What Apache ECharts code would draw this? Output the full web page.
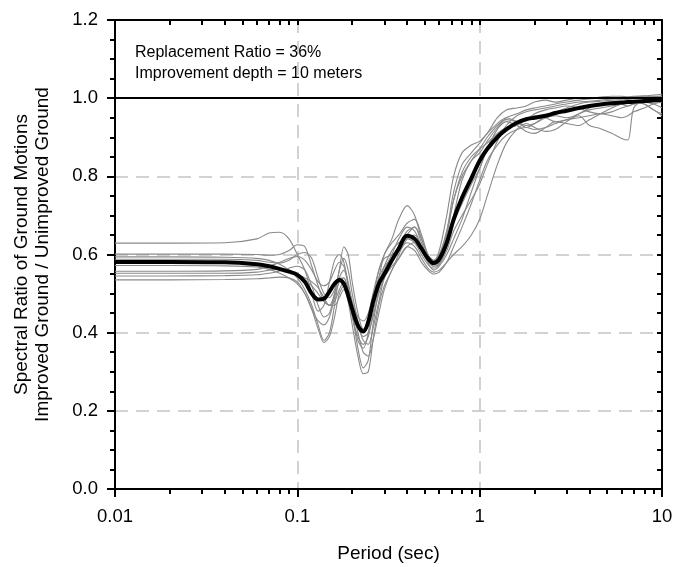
<!DOCTYPE html>
<html>
<head>
<meta charset="utf-8">
<title>Spectral ratio - improved / unimproved ground</title>
<script src="https://cdn.jsdelivr.net/npm/echarts@6/dist/echarts.min.js"></script>
<style>
  html, body { margin: 0; padding: 0; background: #fff; }
  #chart { width: 673px; height: 567px; }
</style>
</head>
<body>
<div id="chart"></div>
<script>
// periods (sec) shared by all records
const periods = [0.01, 0.02, 0.04, 0.06, 0.07, 0.08, 0.09, 0.1,
  0.11, 0.12, 0.13, 0.14, 0.15, 0.16, 0.17, 0.18, 0.19, 0.2,
  0.215, 0.23, 0.245, 0.26, 0.28, 0.3,
  0.33, 0.36, 0.4, 0.44, 0.48, 0.52, 0.56, 0.6,
  0.66, 0.72, 0.8, 0.9, 1.0,
  1.1, 1.25, 1.4, 1.6, 1.8, 2.0,
  2.3, 2.6, 3.0, 3.5, 4.0, 4.6,
  5.3, 6.0, 6.5, 7.0, 8.0, 9.0, 10];

// mean ratio (thick black line)
const meanRatio = [0.581, 0.581, 0.580, 0.575, 0.570, 0.563, 0.556, 0.548,
  0.530, 0.500, 0.485, 0.487, 0.505, 0.525, 0.535, 0.525, 0.495, 0.460,
  0.418, 0.403, 0.428, 0.478, 0.525, 0.550,
  0.585, 0.615, 0.648, 0.640, 0.615, 0.590, 0.578, 0.588,
  0.630, 0.690, 0.745, 0.795, 0.840,
  0.870, 0.900, 0.920, 0.937, 0.946, 0.950,
  0.955, 0.962, 0.968, 0.975, 0.980, 0.984,
  0.987, 0.989, 0.990, 0.991, 0.993, 0.994, 0.995];

// individual ground motion records (thin grey lines)
const rec1 = [0.629, 0.629, 0.630, 0.640, 0.655, 0.657, 0.640, 0.600,
  0.560, 0.500, 0.455, 0.470, 0.530, 0.585, 0.600, 0.580, 0.520, 0.450,
  0.380, 0.360, 0.400, 0.480, 0.560, 0.600,
  0.640, 0.690, 0.725, 0.700, 0.640, 0.600, 0.585, 0.610,
  0.700, 0.800, 0.860, 0.880, 0.890,
  0.910, 0.950, 0.970, 0.975, 0.980, 0.990,
  0.995, 0.990, 0.995, 1.000, 1.000, 1.003,
  1.005, 1.005, 1.003, 1.005, 1.006, 1.008, 1.010];
const rec2 = [0.601, 0.601, 0.601, 0.600, 0.598, 0.600, 0.610, 0.625,
  0.620, 0.570, 0.520, 0.480, 0.470, 0.500, 0.560, 0.620, 0.600, 0.530,
  0.450, 0.410, 0.420, 0.470, 0.540, 0.600,
  0.630, 0.650, 0.680, 0.690, 0.650, 0.600, 0.575, 0.590,
  0.650, 0.740, 0.800, 0.840, 0.870,
  0.900, 0.930, 0.945, 0.940, 0.930, 0.935,
  0.950, 0.955, 0.950, 0.960, 0.975, 0.985,
  0.990, 0.985, 0.980, 0.985, 0.990, 0.985, 0.975];
const rec3 = [0.594, 0.594, 0.593, 0.590, 0.585, 0.575, 0.560, 0.540,
  0.510, 0.470, 0.420, 0.380, 0.400, 0.470, 0.540, 0.560, 0.520, 0.450,
  0.360, 0.310, 0.330, 0.420, 0.510, 0.560,
  0.600, 0.640, 0.670, 0.660, 0.620, 0.585, 0.570, 0.580,
  0.630, 0.700, 0.790, 0.840, 0.860,
  0.890, 0.925, 0.950, 0.960, 0.970, 0.975,
  0.980, 0.985, 0.990, 0.995, 0.998, 1.000,
  1.000, 1.002, 1.003, 1.004, 1.005, 1.005, 1.005];
const rec4 = [0.588, 0.588, 0.588, 0.585, 0.580, 0.578, 0.585, 0.600,
  0.605, 0.590, 0.540, 0.500, 0.490, 0.510, 0.540, 0.540, 0.500, 0.440,
  0.390, 0.370, 0.390, 0.450, 0.520, 0.570,
  0.610, 0.630, 0.640, 0.630, 0.600, 0.575, 0.565, 0.575,
  0.620, 0.680, 0.730, 0.780, 0.820,
  0.870, 0.920, 0.940, 0.930, 0.915, 0.910,
  0.925, 0.940, 0.935, 0.930, 0.945, 0.960,
  0.975, 0.985, 0.990, 0.990, 0.985, 0.970, 0.960];
const rec5 = [0.580, 0.580, 0.579, 0.576, 0.572, 0.565, 0.555, 0.545,
  0.535, 0.520, 0.500, 0.480, 0.470, 0.480, 0.510, 0.530, 0.510, 0.470,
  0.420, 0.390, 0.400, 0.440, 0.500, 0.540,
  0.570, 0.590, 0.620, 0.630, 0.610, 0.580, 0.560, 0.570,
  0.600, 0.640, 0.690, 0.760, 0.820,
  0.870, 0.905, 0.925, 0.930, 0.945, 0.955,
  0.950, 0.940, 0.945, 0.955, 0.930, 0.922,
  0.910, 0.897, 0.893, 0.975, 0.995, 0.998, 1.000];
const rec6 = [0.572, 0.572, 0.571, 0.568, 0.562, 0.552, 0.540, 0.525,
  0.500, 0.460, 0.410, 0.375, 0.390, 0.440, 0.500, 0.520, 0.480, 0.420,
  0.340, 0.295, 0.300, 0.380, 0.470, 0.520,
  0.560, 0.600, 0.640, 0.650, 0.620, 0.585, 0.570, 0.575,
  0.610, 0.660, 0.700, 0.740, 0.780,
  0.830, 0.890, 0.930, 0.955, 0.965, 0.970,
  0.975, 0.980, 0.985, 0.990, 0.992, 0.995,
  0.998, 1.000, 1.000, 1.002, 1.003, 1.004, 1.005];
const rec7 = [0.557, 0.557, 0.558, 0.562, 0.570, 0.580, 0.590, 0.595,
  0.585, 0.560, 0.530, 0.520, 0.530, 0.560, 0.580, 0.570, 0.530, 0.480,
  0.440, 0.430, 0.450, 0.500, 0.560, 0.590,
  0.600, 0.610, 0.630, 0.620, 0.590, 0.565, 0.555, 0.560,
  0.580, 0.600, 0.620, 0.650, 0.690,
  0.750, 0.830, 0.885, 0.920, 0.935, 0.925,
  0.915, 0.920, 0.940, 0.960, 0.970, 0.975,
  0.980, 0.985, 0.988, 0.990, 0.985, 0.970, 0.955];
const rec8 = [0.552, 0.552, 0.552, 0.555, 0.560, 0.565, 0.560, 0.550,
  0.540, 0.530, 0.515, 0.490, 0.470, 0.470, 0.490, 0.510, 0.500, 0.470,
  0.420, 0.380, 0.370, 0.410, 0.480, 0.540,
  0.580, 0.610, 0.650, 0.670, 0.640, 0.600, 0.585, 0.600,
  0.660, 0.740, 0.810, 0.850, 0.870,
  0.885, 0.910, 0.925, 0.935, 0.945, 0.960,
  0.970, 0.975, 0.980, 0.975, 0.965, 0.960,
  0.965, 0.975, 0.980, 0.985, 0.990, 0.992, 0.995];
const rec9 = [0.545, 0.545, 0.546, 0.548, 0.552, 0.558, 0.565, 0.570,
  0.560, 0.520, 0.470, 0.440, 0.450, 0.500, 0.560, 0.590, 0.560, 0.500,
  0.430, 0.400, 0.420, 0.480, 0.540, 0.570,
  0.590, 0.620, 0.660, 0.670, 0.630, 0.595, 0.580, 0.595,
  0.660, 0.760, 0.830, 0.860, 0.885,
  0.910, 0.935, 0.950, 0.940, 0.925, 0.935,
  0.955, 0.965, 0.975, 0.985, 0.990, 0.992,
  0.995, 0.996, 0.997, 0.998, 1.000, 1.002, 1.005];
const rec10 = [0.535, 0.535, 0.536, 0.538, 0.540, 0.542, 0.540, 0.530,
  0.500, 0.460, 0.430, 0.420, 0.440, 0.490, 0.530, 0.540, 0.510, 0.460,
  0.400, 0.350, 0.340, 0.380, 0.450, 0.510,
  0.560, 0.590, 0.620, 0.610, 0.580, 0.560, 0.550, 0.555,
  0.580, 0.620, 0.670, 0.730, 0.790,
  0.840, 0.880, 0.905, 0.920, 0.925, 0.920,
  0.925, 0.935, 0.945, 0.950, 0.955, 0.960,
  0.955, 0.950, 0.955, 0.965, 0.975, 0.985, 0.990];

const records = [rec1, rec2, rec3, rec4, rec5, rec6, rec7, rec8, rec9, rec10];

// axis ticks
const xMajorTicks = [0.01, 0.1, 1, 10];
const xMinorTicks = [];
for (let d = 0; d < 3; d++) {
  for (let k = 2; k <= 9; k++) {
    xMinorTicks.push(+(k * xMajorTicks[d]).toPrecision(2));
  }
}

const labelText = ['Replacement Ratio = 36%', 'Improvement depth = 10 meters'];
const xTitle = 'Period (sec)';
const yTitle = 'Spectral Ratio of Ground Motions\nImproved Ground / Unimproved Ground';

const FONT = 'Liberation Sans, Arial, sans-serif';
const black = { color: '#000', width: 2 };
const gridDash = { color: '#c4c4c4', width: 1.5, type: [13, 8] };

function pairs(vals) {
  return periods.map((p, i) => [p, vals[i]]);
}

const chart = echarts.init(document.getElementById('chart'), null, { renderer: 'canvas' });

const series = records.map((r, i) => ({
  name: 'rec' + (i + 1),
  type: 'line',
  data: pairs(r),
  showSymbol: false,
  smooth: 0.3,
  lineStyle: { color: '#8a8a8a', width: 1.1 },
  z: 2,
  silent: true
}));

series.push({
  name: 'mean',
  type: 'line',
  data: pairs(meanRatio),
  showSymbol: false,
  smooth: 0.35,
  lineStyle: { color: '#000', width: 4 },
  z: 4,
  silent: true,
  markLine: {
    silent: true,
    symbol: ['none', 'none'],
    label: { show: false },
    lineStyle: { color: '#000', width: 2, type: 'solid' },
    data: [{ yAxis: 1.0 }]
  }
});

const option = {
  animation: false,
  backgroundColor: '#fff',
  textStyle: { fontFamily: FONT },
  grid: { left: 115, right: 11, top: 20, bottom: 78, outerBoundsMode: 'none' },
  title: {
    text: labelText.join('\n'),
    left: 130,
    top: 37,
    textStyle: { fontFamily: FONT, fontSize: 16, fontWeight: 'normal', color: '#000', lineHeight: 21 }
  },
  xAxis: [
    {
      type: 'log', logBase: 10, min: 0.01, max: 10, position: 'bottom',
      name: xTitle, nameLocation: 'middle', nameGap: 55,
      nameTextStyle: { fontFamily: FONT, fontSize: 19, color: '#000' },
      axisLine: { show: true, onZero: false, lineStyle: black },
      axisTick: { show: true, inside: false, length: 8, lineStyle: black },
      minorTick: { show: false },
      axisLabel: {
        fontFamily: FONT, fontSize: 18.5, color: '#000', margin: 18,
        formatter: v => String(+Number(v).toPrecision(2))
      },
      splitLine: { show: true, lineStyle: gridDash }
    },
    {
      type: 'log', logBase: 10, min: 0.01, max: 10, position: 'bottom',
      axisLine: { show: false },
      axisTick: { show: true, inside: false, length: 5, customValues: xMinorTicks, lineStyle: black },
      axisLabel: { show: false },
      splitLine: { show: false }
    },
    {
      type: 'log', logBase: 10, min: 0.01, max: 10, position: 'top',
      axisLine: { show: true, onZero: false, lineStyle: black },
      axisTick: { show: true, inside: true, length: 5, customValues: xMajorTicks.concat(xMinorTicks), lineStyle: black },
      axisLabel: { show: false },
      splitLine: { show: false }
    }
  ],
  yAxis: [
    {
      type: 'value', min: 0, max: 1.2, interval: 0.2, position: 'left',
      name: yTitle, nameLocation: 'middle', nameGap: 62, nameRotate: 90,
      nameTextStyle: { fontFamily: FONT, fontSize: 19, color: '#000', lineHeight: 21, align: 'center' },
      axisLine: { show: true, onZero: false, lineStyle: black },
      axisTick: { show: true, inside: false, length: 8, lineStyle: black },
      minorTick: { show: true, splitNumber: 4, length: 5, lineStyle: black },
      axisLabel: {
        fontFamily: FONT, fontSize: 18.5, color: '#000', margin: 17,
        formatter: v => v.toFixed(1)
      },
      splitLine: { show: true, lineStyle: gridDash }
    },
    {
      type: 'value', min: 0, max: 1.2, interval: 0.2, position: 'right',
      axisLine: { show: true, onZero: false, lineStyle: black },
      axisTick: { show: true, inside: true, length: 5, lineStyle: black },
      minorTick: { show: true, splitNumber: 4, length: 5, lineStyle: black },
      axisLabel: { show: false },
      splitLine: { show: false }
    }
  ],
  series: series
};

chart.setOption(option);
</script>
</body>
</html>
